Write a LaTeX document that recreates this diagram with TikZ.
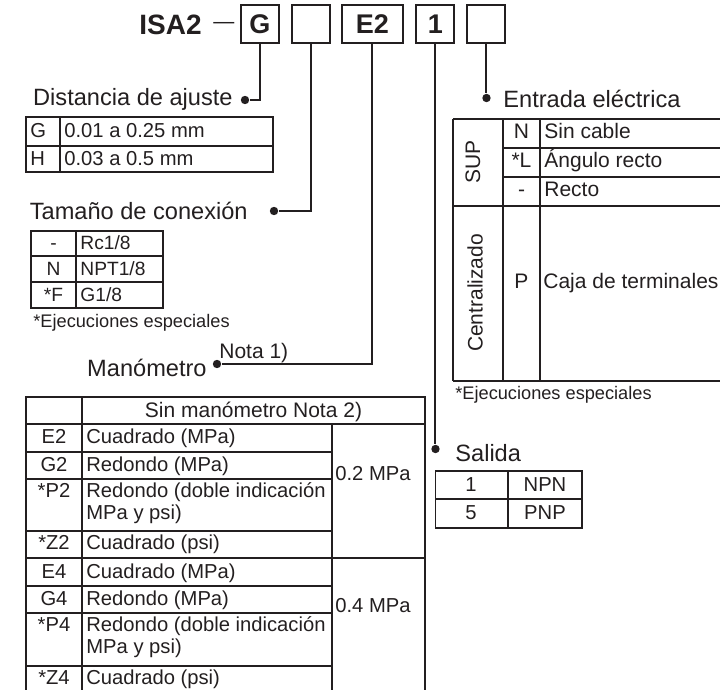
\documentclass[tikz,border=0pt]{standalone}
\usepackage{fontspec}
\setmainfont{Liberation Sans}
\definecolor{ink}{HTML}{231F20}
\begin{document}
\begin{tikzpicture}[x=0.5pt,y=-0.5pt,
  every node/.style={inner sep=0pt, text=ink},
  codebox/.style={draw=ink, line width=1pt, minimum width=19pt, minimum height=19pt,
    font=\fontsize{13.5}{16}\selectfont\bfseries},
  lbl/.style={font=\fontsize{11.8}{14}\selectfont},
  cellA/.style={font=\fontsize{10.1}{12}\selectfont},
  cellB/.style={font=\fontsize{9.6}{11}\selectfont},
  cellC/.style={font=\fontsize{10.5}{12}\selectfont},
  notefont/.style={font=\fontsize{9.1}{10}\selectfont},
  dot/.style={circle, fill=ink, minimum size=4.2pt},
  conn/.style={draw=ink, line width=1pt},
  grid/.style={draw=ink, line width=0.75pt}]
\useasboundingbox (0,0) rectangle (720,690);
\clip (0,0) rectangle (720,690);

% ---- title and code boxes
\node[anchor=base west, font=\fontsize{14}{16}\selectfont\bfseries] (title) at (139,35) {ISA2};
\node[anchor=base west, font=\fontsize{10.5}{12}\selectfont] (dash) at (213,29) {—};
\node[codebox] (bG) at (260,24) {G};
\node[codebox] (b2) at (311,24) {};
\node[codebox, minimum width=30.5pt] (bE) at (372.5,24) {E2};
\node[codebox] (b1) at (435.5,24) {1};
\node[codebox] (b5) at (486.5,24) {};

% ---- connectors
\node[dot] (dA) at (245,100) {};
\node[dot] (dB) at (274,211) {};
\node[dot] (dC) at (217,364) {};
\node[dot] (dD) at (435.5,449) {};
\node[dot] (dE) at (486.5,98) {};
\draw[conn] (bG.south) |- (dA);
\draw[conn] (b2.south) |- (dB);
\draw[conn] (bE.south) |- (dC);
\draw[conn] (b1.south) -- (dD);
\draw[conn] (b5.south) -- (dE);

% ---- labels
\node[lbl, anchor=base east] (lA) at (233,106) {Distancia de ajuste};
\node[lbl, anchor=base east] (lB) at (248,220) {Tamaño de conexión};
\node[lbl, anchor=base east] (lC) at (207,377) {Manómetro};
\node[cellC, anchor=base west] (nota1) at (219,359) {Nota 1)};
\node[lbl, anchor=base west] (lD) at (455,462) {Salida};
\node[lbl, anchor=base west] (lE) at (503,108) {Entrada eléctrica};

% ---- Distancia de ajuste table
\draw[grid] (26,117) rectangle (273,172);
\draw[grid] (26,146) -- (273,146);
\draw[grid] (60,117) -- (60,172);
\node[cellA, anchor=base west] (tA1) at (30,138) {G};
\node[cellA, anchor=base west] (tA2) at (64,138) {0.01 a 0.25 mm};
\node[cellA, anchor=base west] (tA3) at (30,166) {H};
\node[cellA, anchor=base west] (tA4) at (64,166) {0.03 a 0.5 mm};

% ---- Tamano de conexion table
\draw[grid] (31,231) rectangle (163,308);
\draw[grid] (31,256) -- (163,256);
\draw[grid] (31,282) -- (163,282);
\draw[grid] (76,231) -- (76,308);
\node[cellB, anchor=base] (tB1) at (53.5,250) {-};
\node[cellB, anchor=base west] (tB2) at (80,250) {Rc1/8};
\node[cellB, anchor=base] (tB3) at (53.5,275.5) {N};
\node[cellB, anchor=base west] (tB4) at (80,275.5) {NPT1/8};
\node[cellB, anchor=base] (tB5) at (53.5,301.5) {*F};
\node[cellB, anchor=base west] (tB6) at (80,301.5) {G1/8};
\node[notefont, anchor=base west] (noteB) at (33,328) {*Ejecuciones especiales};

% ---- Manometro table
\draw[grid] (26,690) -- (26,397) -- (425,397) -- (425,690);
\draw[grid] (82,397) -- (82,690);
\draw[grid] (332,424) -- (332,690);
\draw[grid] (26,424) -- (425,424);
\draw[grid] (26,558) -- (425,558);
\foreach \yy in {452,479,531,586,613,666} \draw[grid] (26,\yy) -- (332,\yy);
\node[cellA, anchor=base, font=\fontsize{10.5}{12}\selectfont] (hdr) at (253.5,418) {Sin manómetro Nota 2)};
\node[cellA, anchor=base] (cE2) at (54,444) {E2};
\node[cellA, anchor=base west] (dE2) at (86,444) {Cuadrado (MPa)};
\node[cellA, anchor=base] (cG2) at (54,472) {G2};
\node[cellA, anchor=base west] (dG2) at (86,472) {Redondo (MPa)};
\node[cellA, anchor=base] (cP2) at (54,498) {*P2};
\node[cellA, anchor=base west] (dP2a) at (86,498) {Redondo (doble indicación};
\node[cellA, anchor=base west] (dP2b) at (86,520) {MPa y psi)};
\node[cellA, anchor=base] (cZ2) at (54,550) {*Z2};
\node[cellA, anchor=base west] (dZ2) at (86,550) {Cuadrado (psi)};
\node[cellA, anchor=base] (cE4) at (54,579) {E4};
\node[cellA, anchor=base west] (dE4) at (86,579) {Cuadrado (MPa)};
\node[cellA, anchor=base] (cG4) at (54,606) {G4};
\node[cellA, anchor=base west] (dG4) at (86,606) {Redondo (MPa)};
\node[cellA, anchor=base] (cP4) at (54,632) {*P4};
\node[cellA, anchor=base west] (dP4a) at (86,632) {Redondo (doble indicación};
\node[cellA, anchor=base west] (dP4b) at (86,654) {MPa y psi)};
\node[cellA, anchor=base] (cZ4) at (54,685) {*Z4};
\node[cellA, anchor=base west] (dZ4) at (86,685) {Cuadrado (psi)};
\node[cellA, anchor=base west] (p02) at (335,481) {0.2 MPa};
\node[cellA, anchor=base west] (p04) at (335,613) {0.4 MPa};

% ---- Entrada electrica table
\draw[grid] (453,119) -- (730,119);
\draw[grid] (503,148) -- (730,148);
\draw[grid] (503,177) -- (730,177);
\draw[grid] (453,206) -- (730,206);
\draw[grid] (453,381) -- (730,381);
\draw[grid] (453,119) -- (453,381);
\draw[grid] (503,119) -- (503,381);
\draw[grid] (540,119) -- (540,381);
\node[cellC, rotate=90] (sup) at (473,162) {SUP};
\node[cellC, rotate=90] (cent) at (475,293) {Centralizado};
\node[cellC, anchor=base] (eN) at (521.5,138.5) {N};
\node[cellC, anchor=base west] (eN2) at (544,138.5) {Sin cable};
\node[cellC, anchor=base] (eL) at (521.5,167.5) {*L};
\node[cellC, anchor=base west] (eL2) at (544,167.5) {Ángulo recto};
\node[cellC, anchor=base] (eR) at (521.5,196.5) {-};
\node[cellC, anchor=base west] (eR2) at (544,196.5) {Recto};
\node[cellC, anchor=base] (eP) at (521.5,289) {P};
\node[cellC, anchor=base west] (eP2) at (543,289) {Caja de terminales};
\node[notefont, anchor=base west] (noteE) at (455,400) {*Ejecuciones especiales};

% ---- Salida table
\draw[grid] (435.5,471) rectangle (582,528);
\draw[grid] (435.5,499) -- (582,499);
\draw[grid] (508,471) -- (508,528);
\node[cellA, anchor=base] (s1) at (471,492) {1};
\node[cellA, anchor=base] (s1b) at (545,492) {NPN};
\node[cellA, anchor=base] (s5) at (471,520) {5};
\node[cellA, anchor=base] (s5b) at (545,520) {PNP};
\end{tikzpicture}
\end{document}
